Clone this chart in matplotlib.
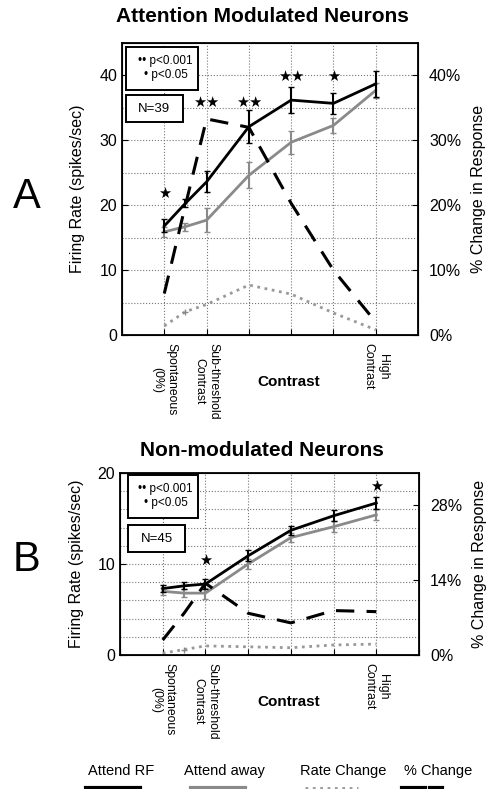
import numpy as np
import matplotlib
matplotlib.use('Agg')
import matplotlib.pyplot as plt
from matplotlib.lines import Line2D
from matplotlib.patches import Rectangle
from matplotlib.ticker import FuncFormatter

plt.rcParams['font.family'] = ['Liberation Sans', 'DejaVu Sans']

# contrast steps (1 = spontaneous, 2 = sub-threshold, 6 = high contrast)
contrast = [1, 1.5, 2, 3, 4, 5, 6]
xtick_labels = {1: 'Spontaneous\n(0%)', 2: 'Sub-threshold\nContrast', 6: 'High\nContrast'}

# A: attention modulated neurons
a_rf = [16.8, 20.3, 23.6, 32.1, 36.2, 35.7, 38.7]
a_rf_err = [1.0, 0.6, 1.6, 2.5, 2.0, 1.6, 2.0]
a_away = [15.9, 16.7, 17.7, 24.6, 29.7, 32.3, 37.7]
a_away_err = [0.8, 0.6, 1.8, 2.0, 1.8, 1.2, 1.2]
a_rate = [1.4, 3.6, 4.7, 7.7, 6.3, 3.4, 0.8]
a_pct = [6.4, 20.0, 33.3, 32.0, 20.3, 10.0, 2.0]
a_star_x = [1, 2, 3, 4, 5]
a_star_y = [21.7, 35.8, 35.8, 39.7, 39.7]
a_star_txt = ['★', '★★', '★★', '★★', '★']

# B: non-modulated neurons
b_rf = [7.3, 7.6, 7.8, 10.9, 13.7, 15.3, 16.7]
b_rf_err = [0.4, 0.4, 0.6, 0.6, 0.5, 0.6, 0.7]
b_away = [7.0, 6.8, 6.8, 10.0, 12.9, 14.1, 15.4]
b_away_err = [0.4, 0.4, 0.6, 0.5, 0.5, 0.6, 0.6]
b_rate = [0.2, 0.6, 1.0, 0.9, 0.8, 1.1, 1.2]
b_pct = [2.8, 7.8, 13.4, 7.8, 6.0, 8.3, 8.1]
b_star_x = [2, 6]
b_star_y = [10.3, 18.5]
b_star_txt = ['★', '★']

W, H = 488, 789
fig = plt.figure(figsize=(W / 100, H / 100), dpi=100)

GREY = '#8a8a8a'


def panel(rect, rf, rf_err, away, away_err, rate, pct, sx, sy, stxt,
          ymax, ystep, ymajor, pmax, pticks, n_txt, box1, box2):
    ax = fig.add_axes(rect)
    ax.set_xlim(0, 7)
    ax.set_ylim(0, ymax)
    ax.set_xticks(range(8))
    ax.set_yticks(np.arange(0, ymax + 0.1, ymajor))
    ax.set_yticks(np.arange(0, ymax + 0.1, ystep), minor=True)
    ax.tick_params(axis='both', direction='in', length=4)
    ax.tick_params(axis='y', labelsize=11.5)
    ax.tick_params(axis='y', which='minor', length=0)
    ax.tick_params(axis='x', pad=6)
    ax.set_xticklabels([xtick_labels.get(i, '') for i in range(8)],
                       rotation=270, va='top', ha='center', fontsize=8.8,
                       multialignment='center')
    for k in range(1, 7):
        ax.axvline(k, color='#777777', lw=0.8, ls=':', zorder=0)
    for v in np.arange(ystep, ymax, ystep):
        ax.axhline(v, color='#777777', lw=0.8, ls=':', zorder=0)
    for s in ax.spines.values():
        s.set_linewidth(1.3)

    ax.plot(contrast, rate, color='#999999', ls=':', lw=2, zorder=2)
    ax.plot(contrast[1], rate[1], marker='+', color='#888888', ms=5, zorder=2)
    ax.errorbar(contrast, away, yerr=away_err, color=GREY, lw=2,
                elinewidth=1.5, capsize=2, zorder=3)
    ax.errorbar(contrast, rf, yerr=rf_err, color='black', lw=2,
                elinewidth=1.5, capsize=2, zorder=4)
    for x, y, t in zip(sx, sy, stxt):
        ax.text(x, y, t, ha='center', va='center', fontsize=10.5)

    ax2 = ax.twinx()
    ax2.set_ylim(0, pmax)
    ax2.set_yticks(pticks)
    ax2.yaxis.set_major_formatter(FuncFormatter(lambda v, p: f'{v:g}%'))
    ax2.tick_params(axis='y', direction='in', labelsize=11.5, length=4, pad=8)
    ax2.plot(contrast, pct, color='black', lw=2.2, dashes=(6, 4), zorder=5)
    ax2.set_ylabel('% Change in Response', fontsize=11.5, labelpad=7)

    ax.set_ylabel('Firing Rate (spikes/sec)', fontsize=11.5, labelpad=10)
    ax.annotate('Contrast', xy=(3.95, 0), xycoords=('data', 'axes fraction'),
                xytext=(0, -47), textcoords='offset pixels',
                ha='center', va='center', fontsize=11, fontweight='bold')

    (x0, y0, x1, y1) = box1
    ax.add_patch(Rectangle((x0, y0), x1 - x0, y1 - y0, transform=ax.transAxes,
                           fill=True, fc='white', ec='black', lw=1.4, zorder=6))
    ax.text(x0 + 0.93 * (x1 - x0), y0 + 0.68 * (y1 - y0), '•• p<0.001',
            transform=ax.transAxes, ha='right', va='center', fontsize=8.5, zorder=7)
    ax.text(x0 + 0.86 * (x1 - x0), y0 + 0.35 * (y1 - y0), '• p<0.05',
            transform=ax.transAxes, ha='right', va='center', fontsize=8.5, zorder=7)
    (x0, y0, x1, y1) = box2
    ax.add_patch(Rectangle((x0, y0), x1 - x0, y1 - y0, transform=ax.transAxes,
                           fill=True, fc='white', ec='black', lw=1.4, zorder=6))
    ax.text((x0 + x1) / 2, (y0 + y1) / 2, n_txt, transform=ax.transAxes,
            ha='center', va='center', fontsize=9.5, zorder=7)
    return ax


panel([122 / W, 1 - 335 / H, 296 / W, 292 / H],
      a_rf, a_rf_err, a_away, a_away_err, a_rate, a_pct,
      a_star_x, a_star_y, a_star_txt,
      45, 5, 10, 45, [0, 10, 20, 30, 40], 'N=39',
      (0.012, 0.839, 0.257, 0.986), (0.012, 0.729, 0.206, 0.822))

panel([120 / W, 1 - 655 / H, 299 / W, 182 / H],
      b_rf, b_rf_err, b_away, b_away_err, b_rate, b_pct,
      b_star_x, b_star_y, b_star_txt,
      20, 2, 10, 34, [0, 14, 28], 'N=45',
      (0.027, 0.753, 0.26, 0.989), (0.027, 0.566, 0.217, 0.714))

fig.text(262 / W, 1 - 17 / H, 'Attention Modulated Neurons', ha='center',
         va='center', fontsize=15, fontweight='bold')
fig.text(262 / W, 1 - 450 / H, 'Non-modulated Neurons', ha='center',
         va='center', fontsize=15, fontweight='bold')
fig.text(27 / W, 1 - 197 / H, 'A', ha='center', va='center', fontsize=30)
fig.text(27 / W, 1 - 560 / H, 'B', ha='center', va='center', fontsize=30)

# legend along the bottom
leg_names = ['Attend RF', 'Attend away', 'Rate Change', '% Change']
leg_x = [121, 224, 343, 438]
for name, x in zip(leg_names, leg_x):
    fig.text(x / W, 1 - 771 / H, name, ha='center', va='center', fontsize=10.5)
ly = 1 - 788 / H
fig.add_artist(Line2D([86 / W, 140 / W], [ly, ly], color='black', lw=3))
fig.add_artist(Line2D([191 / W, 245 / W], [ly, ly], color=GREY, lw=3))
fig.add_artist(Line2D([305 / W, 358 / W], [ly, ly], color='#999999', lw=2, ls=':'))
fig.add_artist(Line2D([402 / W, 425 / W], [ly, ly], color='black', lw=3))
fig.add_artist(Line2D([430 / W, 442 / W], [ly, ly], color='black', lw=3))

fig.savefig('out.png', dpi=100)
